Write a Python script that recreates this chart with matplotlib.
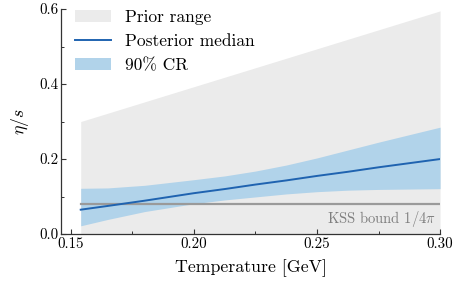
import matplotlib
matplotlib.use("Agg")
import matplotlib.pyplot as plt
import numpy as np

plt.rcParams["font.family"] = "serif"
plt.rcParams["font.serif"] = ["cmr10"]
plt.rcParams["mathtext.fontset"] = "cm"
plt.rcParams["axes.formatter.use_mathtext"] = True

# prior range (lower edge at zero)
prior_T = [0.154, 0.30]
prior_hi = [0.30, 0.595]

# posterior median and 90% credible region
temps = [0.154, 0.165, 0.18, 0.20, 0.2125, 0.225, 0.2375, 0.25, 0.2625, 0.275, 0.2875, 0.30]
median = [0.065, 0.075, 0.089, 0.109, 0.120, 0.132, 0.143, 0.155, 0.166, 0.178, 0.189, 0.200]
cr_lo = [0.022, 0.039, 0.060, 0.081, 0.091, 0.099, 0.107, 0.113, 0.117, 0.119, 0.120, 0.121]
cr_hi = [0.122, 0.123, 0.130, 0.145, 0.155, 0.168, 0.184, 0.203, 0.224, 0.245, 0.265, 0.285]

kss = 1 / (4 * np.pi)

x_ticks = [0.15, 0.20, 0.25, 0.30]
y_ticks = [0.0, 0.2, 0.4, 0.6]

fig = plt.figure(figsize=(4.57, 2.82), dpi=100)
ax = fig.add_axes([0.1335, 0.170, 0.8295, 0.798])

ax.fill_between(prior_T, [0, 0], prior_hi, color="#ebebeb", lw=0, label="Prior range")
ax.fill_between(temps, cr_lo, cr_hi, color="#b1d3ea", lw=0, label="90% CR", zorder=3)
ax.plot(prior_T, [kss, kss], color="#9a9a9a", lw=1.6, zorder=3.5)
ax.plot(temps, median, color="#1f63b0", lw=1.4, label="Posterior median", zorder=4)

ax.text(0.2985, kss - 0.012, r"KSS bound $1/4\pi$", ha="right", va="top",
        color="#7f7f7f", fontsize=10.5)

ax.set_xlim(0.146, 0.30)
ax.set_ylim(0, 0.6)
ax.set_xticks(x_ticks)
ax.set_xticklabels([f"{t:.2f}" for t in x_ticks])
ax.set_yticks(y_ticks)
ax.set_yticklabels([f"{t:.1f}" for t in y_ticks])
ax.set_xticks([0.175, 0.225, 0.275], minor=True)
ax.set_yticks([0.1, 0.3, 0.5], minor=True)

for side in ["top", "right"]:
    ax.spines[side].set_visible(False)
for side in ["left", "bottom"]:
    ax.spines[side].set_color("#333333")
    ax.spines[side].set_linewidth(0.9)

ax.tick_params(which="both", direction="in", color="#333333", labelsize=10.8, pad=2)
ax.tick_params(which="major", length=3.5, width=0.8)
ax.tick_params(which="minor", length=2, width=0.7)

ax.set_xlabel("Temperature [GeV]", fontsize=12.8, labelpad=6)
ax.set_ylabel(r"$\eta/s$", fontsize=12.8, labelpad=6)

handles, labels = ax.get_legend_handles_labels()
order = [labels.index(l) for l in ["Prior range", "Posterior median", "90% CR"]]
ax.legend([handles[i] for i in order], [labels[i] for i in order],
          loc="upper left", bbox_to_anchor=(0.037, 0.995), frameon=False,
          fontsize=12.5, borderpad=0, borderaxespad=0, handlelength=2.1,
          handletextpad=0.75, labelspacing=0.5)

fig.savefig("out.png", dpi=100)
